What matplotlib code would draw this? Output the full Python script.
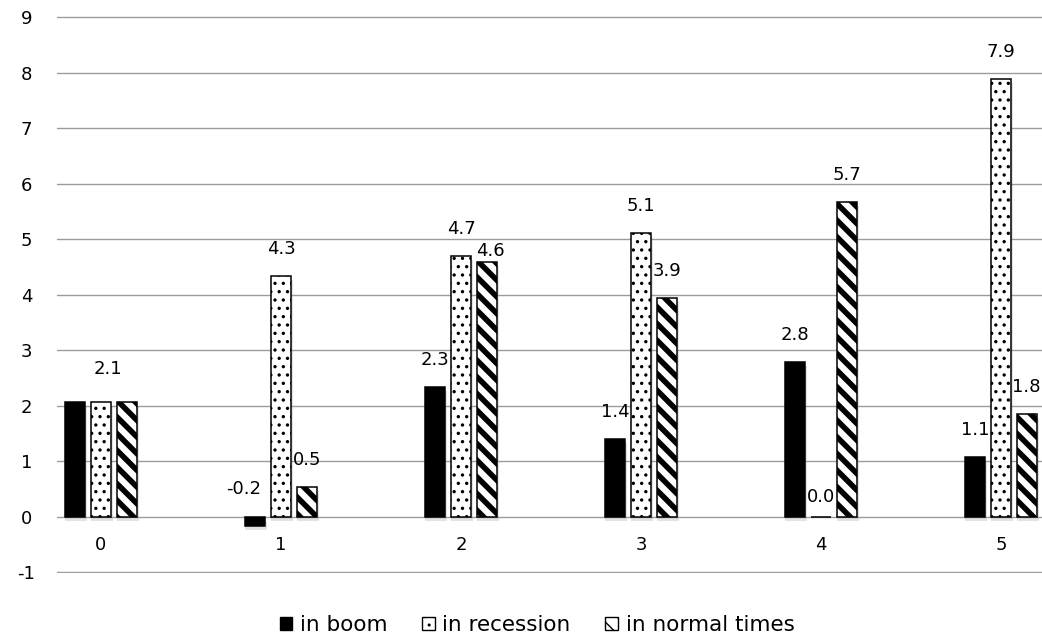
import matplotlib
matplotlib.use("Agg")
import matplotlib.pyplot as plt
from matplotlib.patches import Patch
from matplotlib.transforms import offset_copy
import numpy as np

# Data
categories = ["0", "1", "2", "3", "4", "5"]
series_names = ["in boom", "in recession", "in normal times"]
boom = [2.06, -0.17, 2.33, 1.40, 2.78, 1.07]
recession = [2.07, 4.34, 4.69, 5.11, 0.0, 7.88]
normal = [2.06, 0.54, 4.59, 3.94, 5.67, 1.84]
y_ticks = [-1, 0, 1, 2, 3, 4, 5, 6, 7, 8, 9]

plt.rcParams["font.family"] = ["DejaVu Sans"]

DPI = 100
W, H = 1042, 643
fig = plt.figure(figsize=(W / DPI, H / DPI), dpi=DPI)

# axes placement in pixels
left_px, right_px = 57, 1042
top_px, bot_px = 16, 573
ax = fig.add_axes([left_px / W, 1 - bot_px / H, (right_px - left_px) / W, (bot_px - top_px) / H])

cat_px = 180.0
first_center = 101.0
ax.set_xlim((left_px - first_center) / cat_px, (right_px - first_center) / cat_px)
unit = 55.5
ax.set_ylim(-1 - 1 / unit, 9 + 1 / unit)

for sp in ax.spines.values():
    sp.set_visible(False)

# horizontal gridlines
for t in y_ticks:
    ax.axhline(t, color="#9c9c9c", lw=1.0, zorder=0)

x = np.arange(len(categories))
pitch = 25.7 / cat_px
width = 20.0 / cat_px

# fill style per series: face colour, hatch pattern, hatch line width
styles = [
    dict(facecolor="black", hatch=None, hlw=1.0),
    dict(facecolor="white", hatch="..", hlw=1.2),
    dict(facecolor="white", hatch="\\\\", hlw=4.0),
]
data = [boom, recession, normal]

shadow_tr = offset_copy(ax.transData, fig=fig, x=1, y=-4, units="dots")
for i, (vals, st) in enumerate(zip(data, styles)):
    xs = x + (i - 1) * pitch
    # soft drop shadow
    ax.bar(xs, vals, width=width + 2 / cat_px, color="0.55", alpha=0.25,
           linewidth=0, transform=shadow_tr, zorder=1)
    with plt.rc_context({"hatch.linewidth": st["hlw"]}):
        ax.bar(xs, vals, width=width, facecolor=st["facecolor"], hatch=st["hatch"],
               edgecolor="black", linewidth=1.1, zorder=2)

# value labels: (series, category) -> (dx px, dy px) from bar top; None hides it
label_offsets = {
    (0, 0): None,
    (2, 0): None,
    (1, 0): (7, 33),
    (0, 1): (-12, 28),
    (2, 2): (4, 11),
    (1, 4): (0, 20),
}
for i, vals in enumerate(data):
    for j, v in enumerate(vals):
        off = label_offsets.get((i, j), (0, 27))
        if off is None:
            continue
        dx, dy = off
        ax.annotate(f"{v:.1f}", xy=(x[j] + (i - 1) * pitch, max(v, 0)),
                    xytext=(dx * 0.72, dy * 0.72), textcoords="offset points",
                    ha="center", va="center", fontsize=13, color="black", zorder=4)

# category labels just below the zero line
for j, c in enumerate(categories):
    ax.annotate(c, xy=(x[j], 0), xytext=(0, -28.5 * 0.72), textcoords="offset points",
                ha="center", va="center", fontsize=13, color="black")

ax.set_xticks([])
ax.set_yticks(y_ticks)
ax.set_yticklabels([str(t) for t in y_ticks], fontsize=13, ha="center")
ax.tick_params(axis="y", length=0, pad=22)

handles = []
for st, n in zip(styles, series_names):
    with plt.rc_context({"hatch.linewidth": min(st["hlw"], 2.0)}):
        handles.append(Patch(facecolor=st["facecolor"], hatch=st["hatch"],
                             edgecolor="black", linewidth=1.0, label=n))
fig.legend(handles=handles, loc="center", bbox_to_anchor=(537 / W, 1 - 625 / H),
           ncol=3, frameon=False, fontsize=15.5, handlelength=0.6, handleheight=0.6,
           handletextpad=0.35, columnspacing=1.6)

fig.savefig("out.png", dpi=DPI, facecolor="white")
